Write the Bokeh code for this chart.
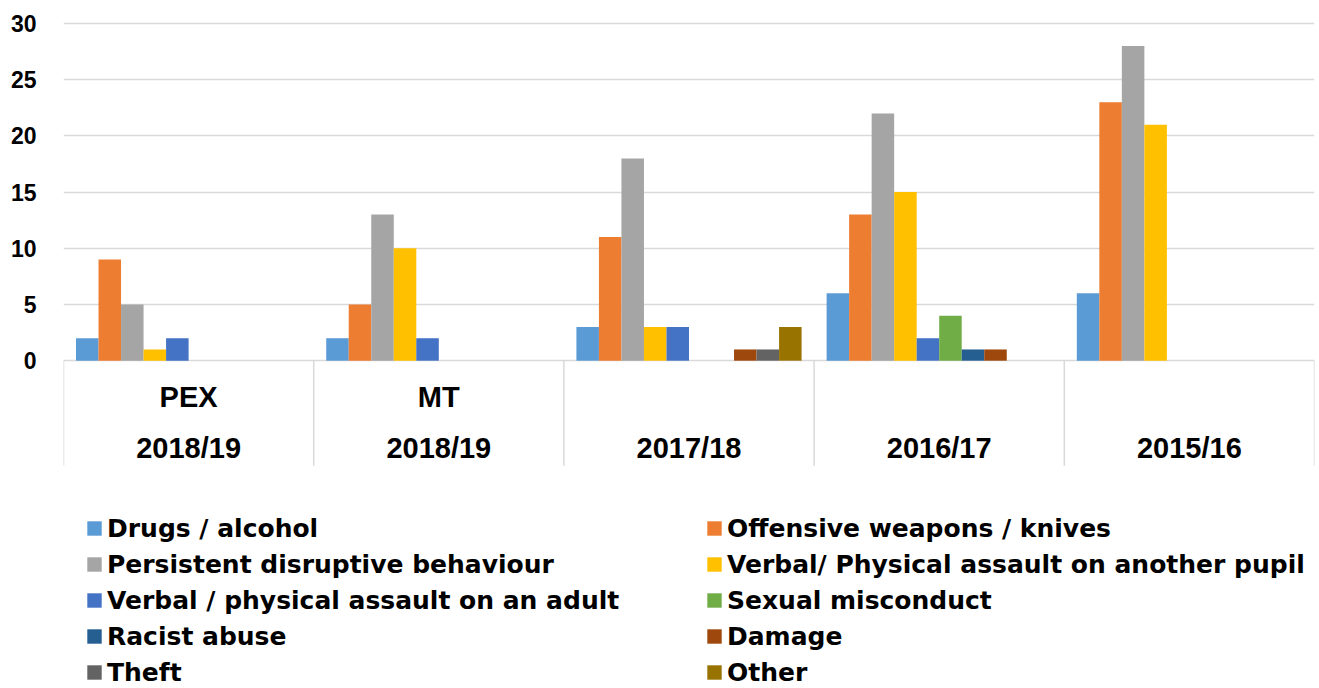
import numpy as np
from bokeh.plotting import figure
from bokeh.models import ColumnDataSource, FixedTicker, Legend, LegendItem, Range1d
from bokeh.core.properties import value
from bokeh.embed import file_html
from bokeh.resources import INLINE

# ---------------- data ----------------
group_top = ["PEX", "MT", "", "", ""]
group_year = ["2018/19", "2018/19", "2017/18", "2016/17", "2015/16"]

series_names = [
    "Drugs / alcohol",
    "Offensive weapons / knives",
    "Persistent disruptive behaviour",
    "Verbal/ Physical assault on another pupil",
    "Verbal / physical assault on an adult",
    "Sexual misconduct",
    "Racist abuse",
    "Damage",
    "Theft",
    "Other",
]
drugs = [2, 2, 3, 6, 6]
offensive = [9, 5, 11, 13, 23]
persistent = [5, 13, 18, 22, 28]
verbal_pupil = [1, 10, 3, 15, 21]
verbal_adult = [2, 2, 3, 2, 0]
sexual = [0, 0, 0, 4, 0]
racist = [0, 0, 0, 1, 0]
damage = [0, 0, 1, 1, 0]
theft = [0, 0, 1, 0, 0]
other = [0, 0, 3, 0, 0]
series_values = [drugs, offensive, persistent, verbal_pupil, verbal_adult,
                 sexual, racist, damage, theft, other]
colors = ["#5B9BD5", "#ED7D31", "#A5A5A5", "#FFC000", "#4472C4",
          "#70AD47", "#255E91", "#9E480E", "#636363", "#997300"]
y_ticks = [0, 5, 10, 15, 20, 25, 30]

# ---------------- geometry ----------------
W, H = 1319, 688
frame_left, frame_right = 63, 1314
frame_top = 10
px_per_unit = 11.24
y_end = 30 + (23 - frame_top) / px_per_unit
y_start = y_end - (H - frame_top) / px_per_unit
cat_bottom = -(465 - 360) / px_per_unit

n_groups = len(group_year)
n_series = len(series_names)
bar_w = 0.09
pad = (1 - bar_w * n_series) / 2

p = figure(width=W, height=H, output_backend="svg", toolbar_location=None,
           x_range=Range1d(0, n_groups), y_range=Range1d(y_start, y_end),
           min_border_left=frame_left, min_border_right=W - frame_right,
           min_border_top=frame_top, min_border_bottom=0)
p.outline_line_color = None
p.background_fill_color = "white"
p.border_fill_color = "white"
p.xaxis.visible = False
p.xgrid.visible = False

yax = p.yaxis[0]
yax.ticker = FixedTicker(ticks=y_ticks)
yax.axis_line_color = None
yax.major_tick_line_color = None
yax.minor_tick_line_color = None
yax.major_label_standoff = 21
yax.major_label_text_font = "Liberation Sans"
yax.major_label_text_font_style = "bold"
yax.major_label_text_font_size = "23px"
yax.major_label_text_color = "#000000"

p.ygrid.ticker = FixedTicker(ticks=y_ticks)
p.ygrid.grid_line_color = "#D9D9D9"
p.ygrid.grid_line_width = 1.5

# separators of category axis
bounds = list(range(n_groups + 1))
p.segment(x0=bounds, y0=[0] * len(bounds), x1=bounds, y1=[cat_bottom] * len(bounds),
          line_color="#D9D9D9", line_width=1.5)

# bars
group_idx = np.arange(n_groups)
renderers = []
for j, (name, vals, col) in enumerate(zip(series_names, series_values, colors)):
    xs = group_idx + pad + bar_w * (j + 0.5)
    src = ColumnDataSource(dict(x=xs, top=vals))
    r = p.vbar(x="x", top="top", bottom=0, width=bar_w, source=src,
               fill_color=col, line_color=None)
    renderers.append(r)

# category labels
centers = group_idx + 0.5
p.text(x=centers, y=[-(396 - 360) / px_per_unit] * n_groups, text=group_top,
       text_font=value("Liberation Sans"), text_font_style="bold",
       text_font_size="29px", text_align="center", text_baseline="middle",
       text_color="#000000")
p.text(x=centers, y=[-(447 - 360) / px_per_unit] * n_groups, text=group_year,
       text_font=value("Liberation Sans"), text_font_style="bold",
       text_font_size="29px", text_align="center", text_baseline="middle",
       text_color="#000000")

# legends: two columns
def make_legend(idx, loc):
    leg = Legend(items=[LegendItem(label=series_names[i], renderers=[renderers[i]]) for i in idx],
                 location=loc, orientation="vertical")
    leg.label_text_font = "DejaVu Sans"
    leg.label_text_font_style = "bold"
    leg.label_text_font_size = "25px"
    leg.label_text_color = "#000000"
    leg.glyph_width = 18
    leg.glyph_height = 18
    leg.label_standoff = 4
    leg.label_height = 30
    leg.spacing = 6
    leg.padding = 0
    leg.margin = 0
    leg.border_line_color = None
    leg.background_fill_alpha = 0
    return leg

p.add_layout(make_legend([0, 2, 4, 6, 8], (85 - frame_left, 1)))
p.add_layout(make_legend([1, 3, 5, 7, 9], (705 - frame_left, 1)))

open("out.html", "w").write(file_html(p, INLINE))
